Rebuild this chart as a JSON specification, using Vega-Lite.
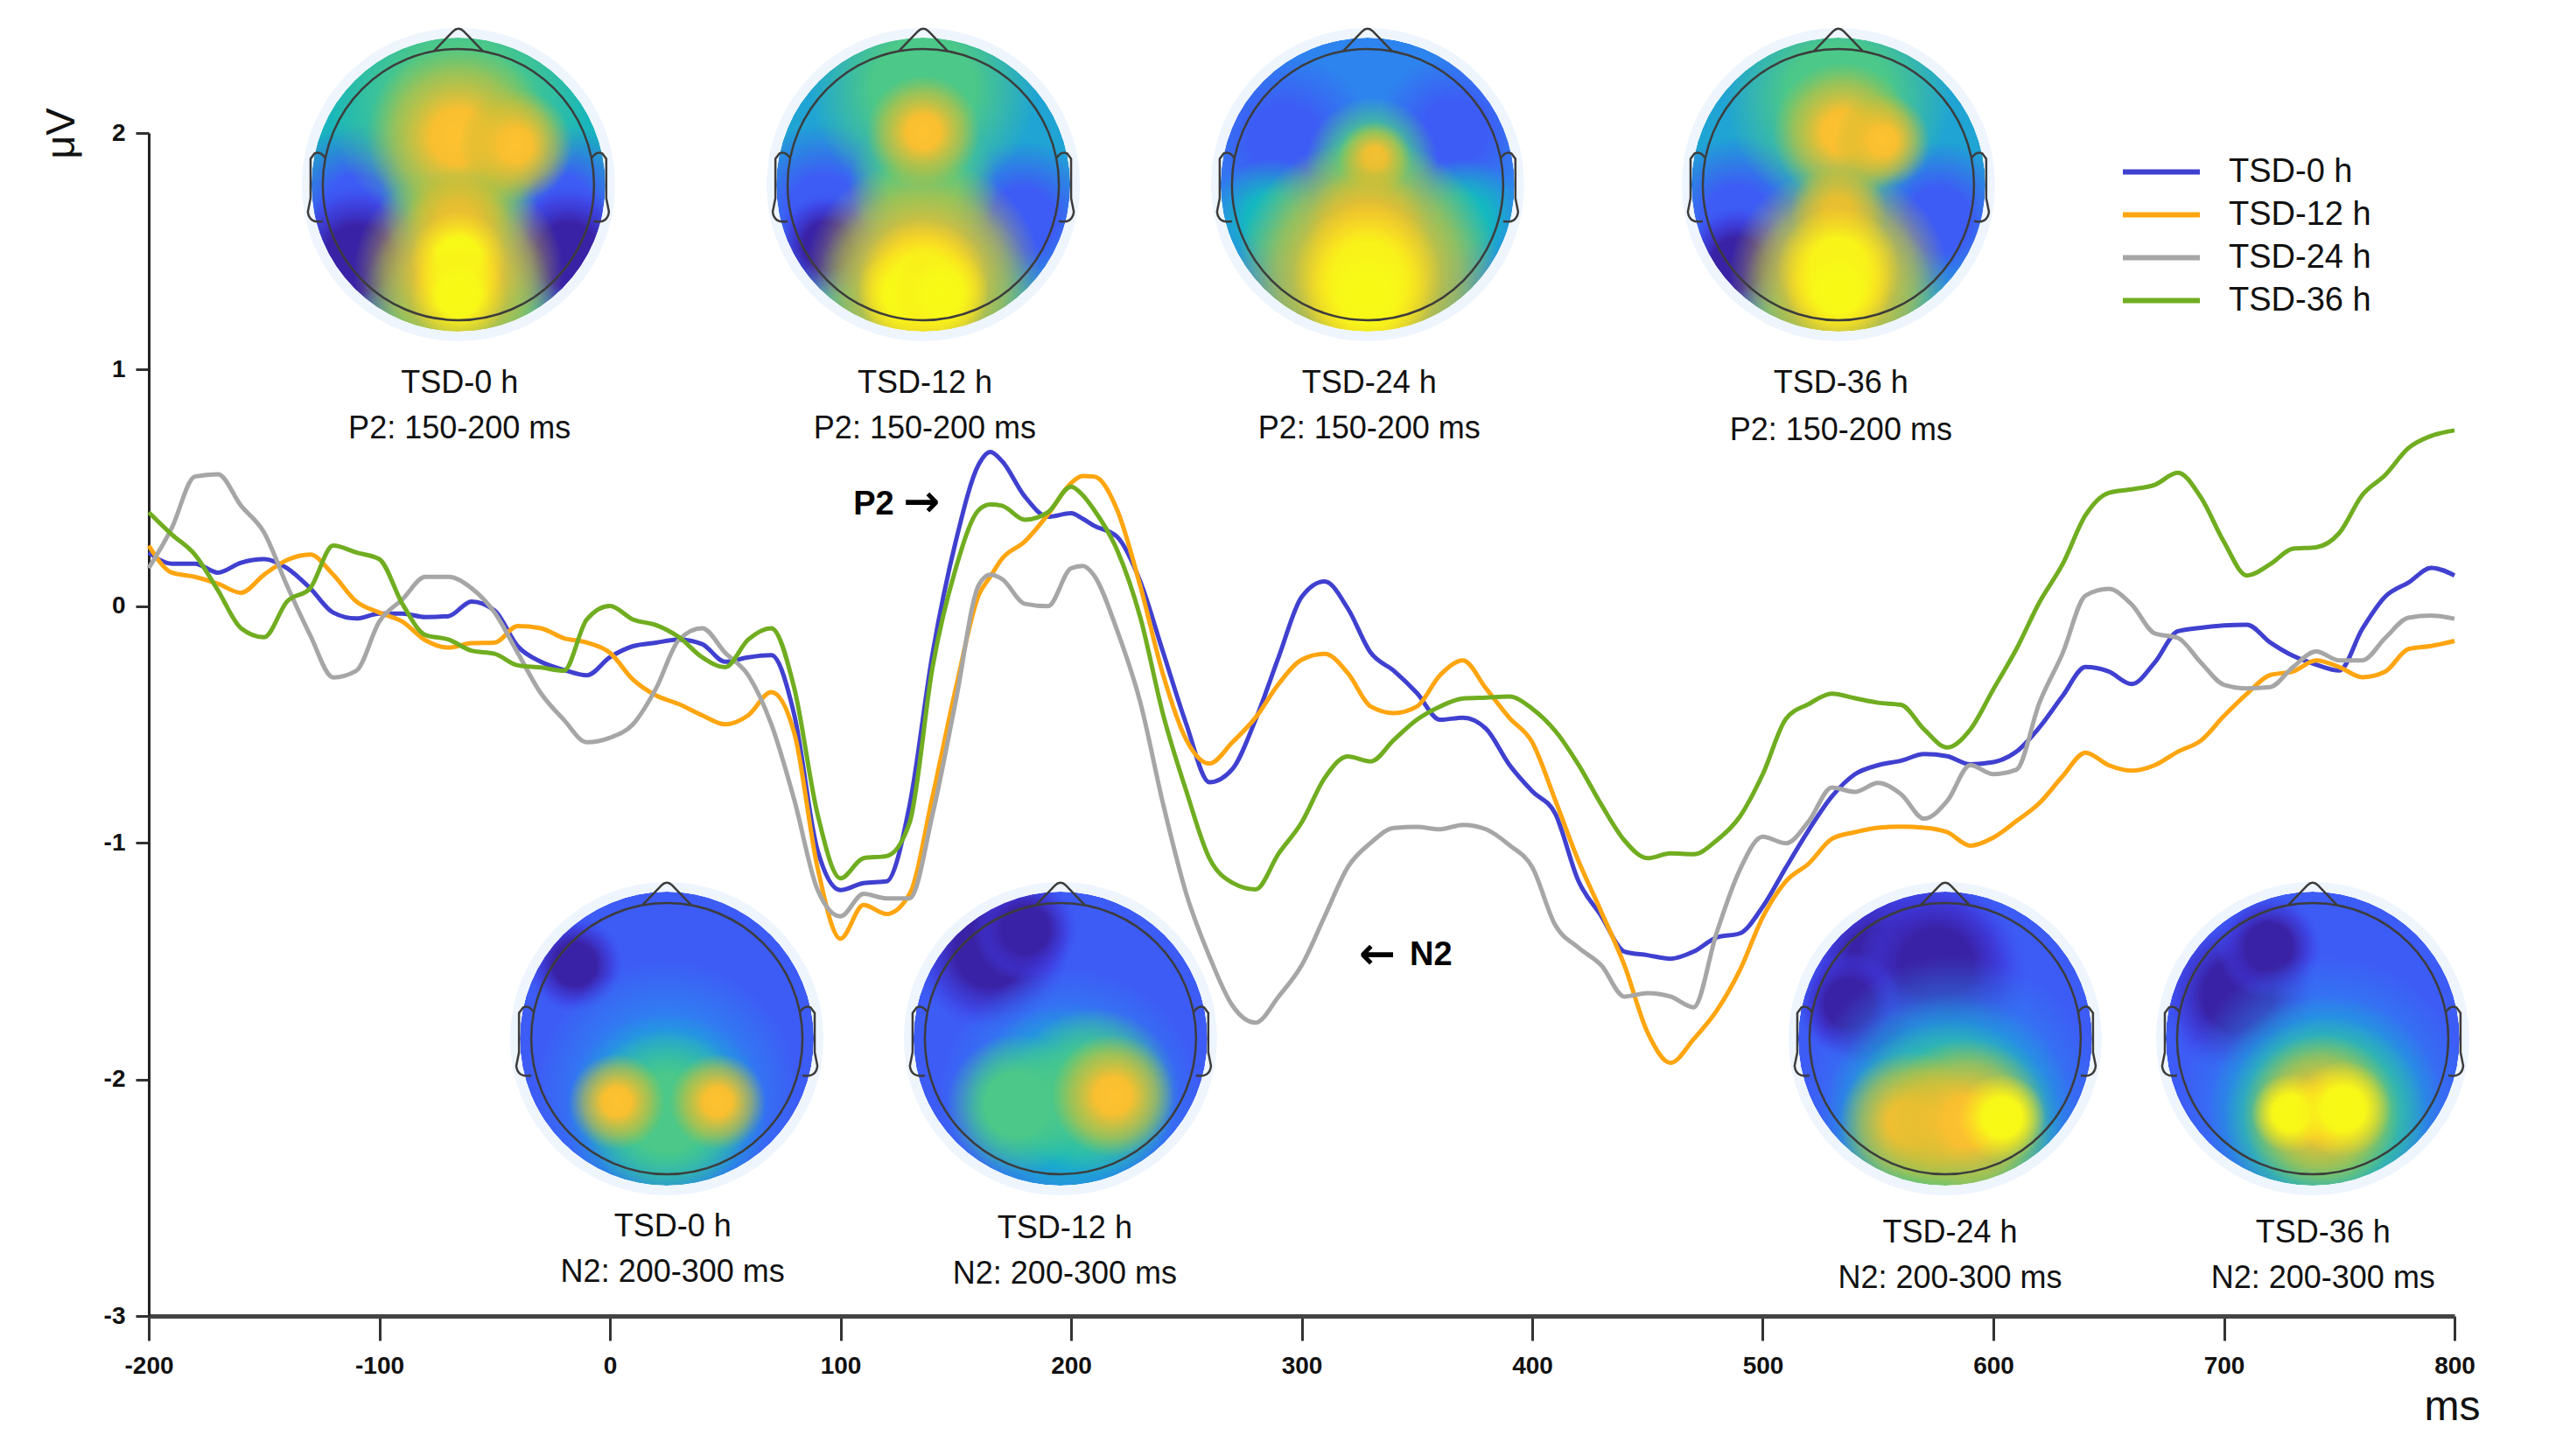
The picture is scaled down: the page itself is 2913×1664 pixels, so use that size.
{
"$schema":"https://vega.github.io/schema/vega-lite/v6.json",
"width":2635,"height":1352,
"autosize":"none",
"padding":{"left":170,"top":152,"right":108,"bottom":160},
"background":"white",
"config":{"view":{"stroke":null},"font":"Liberation Sans"},
"datasets":{
"heads":[
{"head":"P2 TSD-0","ms":-65.7,"uv":1.782,"base":"teal"},
{"head":"P2 TSD-12","ms":135.9,"uv":1.782,"base":"lagoon"},
{"head":"P2 TSD-24","ms":328.6,"uv":1.782,"base":"sky"},
{"head":"P2 TSD-36","ms":532.8,"uv":1.782,"base":"lagoon"},
{"head":"N2 TSD-0","ms":24.7,"uv":-1.828,"base":"royal"},
{"head":"N2 TSD-12","ms":195.4,"uv":-1.828,"base":"royal"},
{"head":"N2 TSD-24","ms":579.1,"uv":-1.828,"base":"royal"},
{"head":"N2 TSD-36","ms":738.5,"uv":-1.828,"base":"royal"}
],
"blobs":[
{"kind":"roy","ms0":-147.3,"ms1":-71.4,"uv0":2.041,"uv1":1.301},
{"kind":"roy","ms0":-60,"ms1":15.9,"uv0":2.041,"uv1":1.301},
{"kind":"ind","ms0":-141.6,"ms1":-77.1,"uv0":1.782,"uv1":1.153},
{"kind":"ind","ms0":-48.6,"ms1":12.1,"uv0":1.782,"uv1":1.19},
{"kind":"grn","ms0":-122.6,"ms1":-8.8,"uv0":2.689,"uv1":1.579},
{"kind":"grn","ms0":-107.4,"ms1":-24,"uv0":1.708,"uv1":0.894},
{"kind":"grn","ms0":-99.9,"ms1":-31.5,"uv0":2.041,"uv1":1.375},
{"kind":"org","ms0":-105.5,"ms1":-25.9,"uv0":2.374,"uv1":1.597},
{"kind":"org","ms0":-65.7,"ms1":-16.4,"uv0":2.189,"uv1":1.708},
{"kind":"org","ms0":-88.5,"ms1":-42.9,"uv0":1.856,"uv1":1.412},
{"kind":"org","ms0":-111.2,"ms1":-20.2,"uv0":1.856,"uv1":0.968},
{"kind":"yel","ms0":-86.6,"ms1":-44.8,"uv0":1.671,"uv1":1.264},
{"kind":"yel","ms0":-86.6,"ms1":-44.8,"uv0":1.523,"uv1":1.116},

{"kind":"roy","ms0":54.3,"ms1":130.2,"uv0":2.041,"uv1":1.301},
{"kind":"roy","ms0":145.4,"ms1":213.7,"uv0":1.967,"uv1":1.301},
{"kind":"ind","ms0":71.4,"ms1":116.9,"uv0":1.745,"uv1":1.301},
{"kind":"grn","ms0":86.6,"ms1":185.2,"uv0":2.67,"uv1":1.708},
{"kind":"grn","ms0":103.6,"ms1":168.2,"uv0":2.097,"uv1":1.468},
{"kind":"grn","ms0":88.5,"ms1":183.3,"uv0":1.782,"uv1":0.857},
{"kind":"org","ms0":111.2,"ms1":160.6,"uv0":2.245,"uv1":1.764},
{"kind":"org","ms0":84.7,"ms1":187.1,"uv0":1.893,"uv1":0.894},
{"kind":"yel","ms0":107.4,"ms1":164.4,"uv0":1.634,"uv1":1.079},
{"kind":"yel","ms0":107.4,"ms1":149.2,"uv0":1.523,"uv1":1.116},
{"kind":"yel","ms0":122.6,"ms1":164.4,"uv0":1.523,"uv1":1.116},

{"kind":"roy","ms0":254.6,"ms1":330.5,"uv0":2.337,"uv1":1.597},
{"kind":"roy","ms0":332.4,"ms1":400.7,"uv0":2.337,"uv1":1.671},
{"kind":"tea","ms0":343.8,"ms1":396.9,"uv0":1.893,"uv1":1.375},
{"kind":"tea","ms0":260.3,"ms1":313.4,"uv0":1.893,"uv1":1.375},
{"kind":"grn","ms0":302,"ms1":359,"uv0":2.152,"uv1":1.597},
{"kind":"grn","ms0":271.7,"ms1":385.5,"uv0":1.986,"uv1":0.876},
{"kind":"org","ms0":315.7,"ms1":347.6,"uv0":2.048,"uv1":1.738},
{"kind":"org","ms0":302,"ms1":355.2,"uv0":1.856,"uv1":1.338},
{"kind":"org","ms0":271.7,"ms1":385.5,"uv0":1.967,"uv1":0.857},
{"kind":"yel","ms0":296.3,"ms1":360.9,"uv0":1.708,"uv1":1.079},
{"kind":"yel","ms0":302,"ms1":355.2,"uv0":1.579,"uv1":1.06},

{"kind":"roy","ms0":453.1,"ms1":525.2,"uv0":1.986,"uv1":1.283},
{"kind":"roy","ms0":542.3,"ms1":610.6,"uv0":1.967,"uv1":1.301},
{"kind":"ind","ms0":464.5,"ms1":513.8,"uv0":1.69,"uv1":1.209},
{"kind":"grn","ms0":483.5,"ms1":582.1,"uv0":2.633,"uv1":1.671},
{"kind":"grn","ms0":491.1,"ms1":574.5,"uv0":1.727,"uv1":0.913},
{"kind":"org","ms0":504.3,"ms1":565.1,"uv0":2.3,"uv1":1.708},
{"kind":"org","ms0":530.9,"ms1":572.6,"uv0":2.17,"uv1":1.764},
{"kind":"org","ms0":511.9,"ms1":553.7,"uv0":1.875,"uv1":1.468},
{"kind":"org","ms0":485.4,"ms1":580.2,"uv0":1.856,"uv1":0.931},
{"kind":"yel","ms0":506.2,"ms1":559.4,"uv0":1.69,"uv1":1.172},
{"kind":"yel","ms0":510,"ms1":555.6,"uv0":1.56,"uv1":1.116},

{"kind":"ind","ms0":-36,"ms1":5.7,"uv0":-1.31,"uv1":-1.717},
{"kind":"sky","ms0":-32.2,"ms1":81.6,"uv0":-1.495,"uv1":-2.605},
{"kind":"tea","ms0":-18.9,"ms1":68.3,"uv0":-1.717,"uv1":-2.568},
{"kind":"grn","ms0":-11.4,"ms1":60.8,"uv0":-1.791,"uv1":-2.494},
{"kind":"org","ms0":-17.8,"ms1":23.9,"uv0":-1.891,"uv1":-2.298},
{"kind":"org","ms0":25.8,"ms1":67.6,"uv0":-1.891,"uv1":-2.298},

{"kind":"ind","ms0":130.9,"ms1":199.2,"uv0":-1.125,"uv1":-1.791},
{"kind":"ind","ms0":157.5,"ms1":203,"uv0":-1.144,"uv1":-1.588},
{"kind":"sky","ms0":142.3,"ms1":256.1,"uv0":-1.532,"uv1":-2.642},
{"kind":"tea","ms0":153.7,"ms1":244.7,"uv0":-1.68,"uv1":-2.568},
{"kind":"grn","ms0":146.1,"ms1":206.8,"uv0":-1.81,"uv1":-2.402},
{"kind":"grn","ms0":174.5,"ms1":246.6,"uv0":-1.699,"uv1":-2.402},
{"kind":"org","ms0":191.6,"ms1":244.7,"uv0":-1.81,"uv1":-2.328},

{"kind":"ind","ms0":520.3,"ms1":615.2,"uv0":-1.107,"uv1":-2.032},
{"kind":"ind","ms0":518.4,"ms1":579.1,"uv0":-1.384,"uv1":-1.976},
{"kind":"ind","ms0":518.4,"ms1":586.7,"uv0":-1.18,"uv1":-1.847},
{"kind":"ind","ms0":541.2,"ms1":609.5,"uv0":-1.18,"uv1":-1.847},
{"kind":"ind","ms0":514.6,"ms1":560.1,"uv0":-1.458,"uv1":-1.902},
{"kind":"sky","ms0":518.4,"ms1":647.4,"uv0":-1.476,"uv1":-2.735},
{"kind":"tea","ms0":526,"ms1":636,"uv0":-1.643,"uv1":-2.716},
{"kind":"grn","ms0":531.7,"ms1":630.3,"uv0":-1.754,"uv1":-2.716},
{"kind":"org","ms0":533.6,"ms1":594.3,"uv0":-1.884,"uv1":-2.476},
{"kind":"org","ms0":552.5,"ms1":624.6,"uv0":-1.828,"uv1":-2.531},
{"kind":"yel","ms0":584.8,"ms1":622.7,"uv0":-1.976,"uv1":-2.346},

{"kind":"ind","ms0":672.1,"ms1":740.4,"uv0":-1.31,"uv1":-1.976},
{"kind":"ind","ms0":696.8,"ms1":742.3,"uv0":-1.218,"uv1":-1.662},
{"kind":"sky","ms0":681.6,"ms1":806.8,"uv0":-1.476,"uv1":-2.698},
{"kind":"tea","ms0":693,"ms1":795.4,"uv0":-1.643,"uv1":-2.642},
{"kind":"grn","ms0":700.5,"ms1":787.8,"uv0":-1.736,"uv1":-2.587},
{"kind":"org","ms0":708.1,"ms1":776.5,"uv0":-1.81,"uv1":-2.476},
{"kind":"yel","ms0":711.9,"ms1":746.1,"uv0":-1.976,"uv1":-2.309},
{"kind":"yel","ms0":730.9,"ms1":772.7,"uv0":-1.921,"uv1":-2.328}
],
"labels":[
{"t":"TSD-0 h","ms":-65.2,"uv":0.949},{"t":"P2: 150-200 ms","ms":-65.2,"uv":0.757},
{"t":"TSD-12 h","ms":136.6,"uv":0.949},{"t":"P2: 150-200 ms","ms":136.6,"uv":0.757},
{"t":"TSD-24 h","ms":329.3,"uv":0.949},{"t":"P2: 150-200 ms","ms":329.3,"uv":0.757},
{"t":"TSD-36 h","ms":533.9,"uv":0.949},{"t":"P2: 150-200 ms","ms":533.9,"uv":0.75},
{"t":"TSD-0 h","ms":27.2,"uv":-2.615},{"t":"N2: 200-300 ms","ms":27.2,"uv":-2.808},
{"t":"TSD-12 h","ms":197.3,"uv":-2.622},{"t":"N2: 200-300 ms","ms":197.3,"uv":-2.815},
{"t":"TSD-24 h","ms":581.2,"uv":-2.643},{"t":"N2: 200-300 ms","ms":581.2,"uv":-2.835},
{"t":"TSD-36 h","ms":743,"uv":-2.643},{"t":"N2: 200-300 ms","ms":743,"uv":-2.835}
],
"peaks":[
{"t":"P2","ms":114.4,"uv":0.427},
{"t":"N2","ms":356.1,"uv":-1.475}
],
"arrows":[
{"t":"→","ms":135.2,"uv":0.434},
{"t":"←","ms":332.8,"uv":-1.475}
],
"erp":[
{"ms":-200,"TSD-0 h":0.227,"TSD-12 h":0.256,"TSD-24 h":0.161,"TSD-36 h":0.397},
{"ms":-190,"TSD-0 h":0.18,"TSD-12 h":0.142,"TSD-24 h":0.331,"TSD-36 h":0.303},
{"ms":-180,"TSD-0 h":0.18,"TSD-12 h":0.124,"TSD-24 h":0.548,"TSD-36 h":0.218},
{"ms":-170,"TSD-0 h":0.142,"TSD-12 h":0.095,"TSD-24 h":0.558,"TSD-36 h":0.067},
{"ms":-160,"TSD-0 h":0.184,"TSD-12 h":0.057,"TSD-24 h":0.425,"TSD-36 h":-0.093},
{"ms":-150,"TSD-0 h":0.199,"TSD-12 h":0.133,"TSD-24 h":0.312,"TSD-36 h":-0.131},
{"ms":-140,"TSD-0 h":0.161,"TSD-12 h":0.195,"TSD-24 h":0.086,"TSD-36 h":0.02},
{"ms":-130,"TSD-0 h":0.076,"TSD-12 h":0.218,"TSD-24 h":-0.122,"TSD-36 h":0.076},
{"ms":-120,"TSD-0 h":-0.027,"TSD-12 h":0.133,"TSD-24 h":-0.301,"TSD-36 h":0.256},
{"ms":-110,"TSD-0 h":-0.052,"TSD-12 h":0.02,"TSD-24 h":-0.273,"TSD-36 h":0.227},
{"ms":-100,"TSD-0 h":-0.031,"TSD-12 h":-0.027,"TSD-24 h":-0.065,"TSD-36 h":0.199},
{"ms":-90,"TSD-0 h":-0.031,"TSD-12 h":-0.065,"TSD-24 h":0.029,"TSD-36 h":0.01},
{"ms":-80,"TSD-0 h":-0.046,"TSD-12 h":-0.144,"TSD-24 h":0.124,"TSD-36 h":-0.122},
{"ms":-70,"TSD-0 h":-0.042,"TSD-12 h":-0.175,"TSD-24 h":0.124,"TSD-36 h":-0.141},
{"ms":-60,"TSD-0 h":0.02,"TSD-12 h":-0.156,"TSD-24 h":0.076,"TSD-36 h":-0.188},
{"ms":-50,"TSD-0 h":-0.018,"TSD-12 h":-0.154,"TSD-24 h":-0.027,"TSD-36 h":-0.201},
{"ms":-40,"TSD-0 h":-0.169,"TSD-12 h":-0.084,"TSD-24 h":-0.197,"TSD-36 h":-0.25},
{"ms":-30,"TSD-0 h":-0.235,"TSD-12 h":-0.093,"TSD-24 h":-0.367,"TSD-36 h":-0.259},
{"ms":-20,"TSD-0 h":-0.269,"TSD-12 h":-0.135,"TSD-24 h":-0.48,"TSD-36 h":-0.273},
{"ms":-10,"TSD-0 h":-0.292,"TSD-12 h":-0.154,"TSD-24 h":-0.575,"TSD-36 h":-0.056},
{"ms":0,"TSD-0 h":-0.216,"TSD-12 h":-0.197,"TSD-24 h":-0.556,"TSD-36 h":0.001},
{"ms":10,"TSD-0 h":-0.169,"TSD-12 h":-0.31,"TSD-24 h":-0.499,"TSD-36 h":-0.056},
{"ms":20,"TSD-0 h":-0.154,"TSD-12 h":-0.377,"TSD-24 h":-0.348,"TSD-36 h":-0.08},
{"ms":30,"TSD-0 h":-0.141,"TSD-12 h":-0.414,"TSD-24 h":-0.141,"TSD-36 h":-0.131},
{"ms":40,"TSD-0 h":-0.16,"TSD-12 h":-0.461,"TSD-24 h":-0.093,"TSD-36 h":-0.216},
{"ms":50,"TSD-0 h":-0.235,"TSD-12 h":-0.499,"TSD-24 h":-0.197,"TSD-36 h":-0.258},
{"ms":60,"TSD-0 h":-0.216,"TSD-12 h":-0.461,"TSD-24 h":-0.292,"TSD-36 h":-0.141},
{"ms":70,"TSD-0 h":-0.207,"TSD-12 h":-0.363,"TSD-24 h":-0.499,"TSD-36 h":-0.093},
{"ms":80,"TSD-0 h":-0.461,"TSD-12 h":-0.537,"TSD-24 h":-0.82,"TSD-36 h":-0.348},
{"ms":90,"TSD-0 h":-1.03,"TSD-12 h":-1.103,"TSD-24 h":-1.197,"TSD-36 h":-0.877},
{"ms":100,"TSD-0 h":-1.2,"TSD-12 h":-1.405,"TSD-24 h":-1.311,"TSD-36 h":-1.15},
{"ms":110,"TSD-0 h":-1.17,"TSD-12 h":-1.263,"TSD-24 h":-1.216,"TSD-36 h":-1.065},
{"ms":120,"TSD-0 h":-1.163,"TSD-12 h":-1.301,"TSD-24 h":-1.235,"TSD-36 h":-1.056},
{"ms":130,"TSD-0 h":-0.84,"TSD-12 h":-1.216,"TSD-24 h":-1.235,"TSD-36 h":-0.914},
{"ms":140,"TSD-0 h":-0.197,"TSD-12 h":-0.801,"TSD-24 h":-0.877,"TSD-36 h":-0.254},
{"ms":150,"TSD-0 h":0.274,"TSD-12 h":-0.348,"TSD-24 h":-0.4,"TSD-36 h":0.16},
{"ms":160,"TSD-0 h":0.6,"TSD-12 h":0.048,"TSD-24 h":0.09,"TSD-36 h":0.407},
{"ms":165,"TSD-0 h":0.652,"TSD-12 h":0.125,"TSD-24 h":0.133,"TSD-36 h":0.43},
{"ms":170,"TSD-0 h":0.614,"TSD-12 h":0.2,"TSD-24 h":0.115,"TSD-36 h":0.425},
{"ms":180,"TSD-0 h":0.463,"TSD-12 h":0.274,"TSD-24 h":0.01,"TSD-36 h":0.365},
{"ms":190,"TSD-0 h":0.378,"TSD-12 h":0.388,"TSD-24 h":0,"TSD-36 h":0.397},
{"ms":200,"TSD-0 h":0.393,"TSD-12 h":0.52,"TSD-24 h":0.16,"TSD-36 h":0.505},
{"ms":205,"TSD-0 h":0.37,"TSD-12 h":0.55,"TSD-24 h":0.17,"TSD-36 h":0.47},
{"ms":210,"TSD-0 h":0.34,"TSD-12 h":0.548,"TSD-24 h":0.13,"TSD-36 h":0.407},
{"ms":220,"TSD-0 h":0.293,"TSD-12 h":0.407,"TSD-24 h":-0.103,"TSD-36 h":0.237},
{"ms":230,"TSD-0 h":0.105,"TSD-12 h":0.086,"TSD-24 h":-0.405,"TSD-36 h":-0.046},
{"ms":240,"TSD-0 h":-0.197,"TSD-12 h":-0.292,"TSD-24 h":-0.839,"TSD-36 h":-0.461},
{"ms":250,"TSD-0 h":-0.499,"TSD-12 h":-0.565,"TSD-24 h":-1.216,"TSD-36 h":-0.782},
{"ms":260,"TSD-0 h":-0.744,"TSD-12 h":-0.665,"TSD-24 h":-1.48,"TSD-36 h":-1.065},
{"ms":270,"TSD-0 h":-0.688,"TSD-12 h":-0.575,"TSD-24 h":-1.688,"TSD-36 h":-1.169},
{"ms":280,"TSD-0 h":-0.48,"TSD-12 h":-0.471,"TSD-24 h":-1.76,"TSD-36 h":-1.197},
{"ms":290,"TSD-0 h":-0.216,"TSD-12 h":-0.329,"TSD-24 h":-1.65,"TSD-36 h":-1.046},
{"ms":300,"TSD-0 h":0.039,"TSD-12 h":-0.226,"TSD-24 h":-1.518,"TSD-36 h":-0.914},
{"ms":310,"TSD-0 h":0.105,"TSD-12 h":-0.201,"TSD-24 h":-1.311,"TSD-36 h":-0.726},
{"ms":320,"TSD-0 h":-0.009,"TSD-12 h":-0.282,"TSD-24 h":-1.103,"TSD-36 h":-0.635},
{"ms":330,"TSD-0 h":-0.197,"TSD-12 h":-0.424,"TSD-24 h":-1,"TSD-36 h":-0.656},
{"ms":340,"TSD-0 h":-0.273,"TSD-12 h":-0.452,"TSD-24 h":-0.937,"TSD-36 h":-0.565},
{"ms":350,"TSD-0 h":-0.367,"TSD-12 h":-0.424,"TSD-24 h":-0.933,"TSD-36 h":-0.48},
{"ms":360,"TSD-0 h":-0.48,"TSD-12 h":-0.292,"TSD-24 h":-0.943,"TSD-36 h":-0.424},
{"ms":370,"TSD-0 h":-0.471,"TSD-12 h":-0.229,"TSD-24 h":-0.924,"TSD-36 h":-0.39},
{"ms":380,"TSD-0 h":-0.518,"TSD-12 h":-0.348,"TSD-24 h":-0.943,"TSD-36 h":-0.386},
{"ms":390,"TSD-0 h":-0.669,"TSD-12 h":-0.471,"TSD-24 h":-1.009,"TSD-36 h":-0.382},
{"ms":400,"TSD-0 h":-0.782,"TSD-12 h":-0.575,"TSD-24 h":-1.103,"TSD-36 h":-0.433},
{"ms":410,"TSD-0 h":-0.877,"TSD-12 h":-0.82,"TSD-24 h":-1.348,"TSD-36 h":-0.527},
{"ms":420,"TSD-0 h":-1.16,"TSD-12 h":-1.075,"TSD-24 h":-1.443,"TSD-36 h":-0.669},
{"ms":430,"TSD-0 h":-1.31,"TSD-12 h":-1.292,"TSD-24 h":-1.518,"TSD-36 h":-0.839},
{"ms":440,"TSD-0 h":-1.46,"TSD-12 h":-1.518,"TSD-24 h":-1.65,"TSD-36 h":-0.99},
{"ms":450,"TSD-0 h":-1.475,"TSD-12 h":-1.801,"TSD-24 h":-1.635,"TSD-36 h":-1.065},
{"ms":460,"TSD-0 h":-1.49,"TSD-12 h":-1.93,"TSD-24 h":-1.65,"TSD-36 h":-1.045},
{"ms":470,"TSD-0 h":-1.46,"TSD-12 h":-1.83,"TSD-24 h":-1.695,"TSD-36 h":-1.048},
{"ms":480,"TSD-0 h":-1.4,"TSD-12 h":-1.71,"TSD-24 h":-1.38,"TSD-36 h":-0.99},
{"ms":490,"TSD-0 h":-1.383,"TSD-12 h":-1.54,"TSD-24 h":-1.115,"TSD-36 h":-0.89},
{"ms":500,"TSD-0 h":-1.27,"TSD-12 h":-1.314,"TSD-24 h":-0.974,"TSD-36 h":-0.71},
{"ms":510,"TSD-0 h":-1.105,"TSD-12 h":-1.163,"TSD-24 h":-1.002,"TSD-36 h":-0.477},
{"ms":520,"TSD-0 h":-0.945,"TSD-12 h":-1.087,"TSD-24 h":-0.908,"TSD-36 h":-0.413},
{"ms":530,"TSD-0 h":-0.804,"TSD-12 h":-0.983,"TSD-24 h":-0.766,"TSD-36 h":-0.37},
{"ms":540,"TSD-0 h":-0.71,"TSD-12 h":-0.955,"TSD-24 h":-0.785,"TSD-36 h":-0.389},
{"ms":550,"TSD-0 h":-0.672,"TSD-12 h":-0.936,"TSD-24 h":-0.747,"TSD-36 h":-0.408},
{"ms":560,"TSD-0 h":-0.653,"TSD-12 h":-0.932,"TSD-24 h":-0.795,"TSD-36 h":-0.417},
{"ms":570,"TSD-0 h":-0.625,"TSD-12 h":-0.936,"TSD-24 h":-0.898,"TSD-36 h":-0.521},
{"ms":580,"TSD-0 h":-0.634,"TSD-12 h":-0.955,"TSD-24 h":-0.823,"TSD-36 h":-0.597},
{"ms":590,"TSD-0 h":-0.668,"TSD-12 h":-1.012,"TSD-24 h":-0.672,"TSD-36 h":-0.521},
{"ms":600,"TSD-0 h":-0.659,"TSD-12 h":-0.978,"TSD-24 h":-0.71,"TSD-36 h":-0.351},
{"ms":610,"TSD-0 h":-0.615,"TSD-12 h":-0.908,"TSD-24 h":-0.691,"TSD-36 h":-0.181},
{"ms":620,"TSD-0 h":-0.512,"TSD-12 h":-0.832,"TSD-24 h":-0.408,"TSD-36 h":0.017},
{"ms":630,"TSD-0 h":-0.38,"TSD-12 h":-0.719,"TSD-24 h":-0.2,"TSD-36 h":0.177},
{"ms":640,"TSD-0 h":-0.257,"TSD-12 h":-0.619,"TSD-24 h":0.045,"TSD-36 h":0.385},
{"ms":650,"TSD-0 h":-0.276,"TSD-12 h":-0.672,"TSD-24 h":0.073,"TSD-36 h":0.479},
{"ms":660,"TSD-0 h":-0.329,"TSD-12 h":-0.695,"TSD-24 h":0.007,"TSD-36 h":0.494},
{"ms":670,"TSD-0 h":-0.238,"TSD-12 h":-0.672,"TSD-24 h":-0.115,"TSD-36 h":0.513},
{"ms":680,"TSD-0 h":-0.106,"TSD-12 h":-0.615,"TSD-24 h":-0.134,"TSD-36 h":0.564},
{"ms":690,"TSD-0 h":-0.091,"TSD-12 h":-0.568,"TSD-24 h":-0.238,"TSD-36 h":0.46},
{"ms":700,"TSD-0 h":-0.081,"TSD-12 h":-0.464,"TSD-24 h":-0.332,"TSD-36 h":0.272},
{"ms":710,"TSD-0 h":-0.078,"TSD-12 h":-0.37,"TSD-24 h":-0.347,"TSD-36 h":0.13},
{"ms":720,"TSD-0 h":-0.153,"TSD-12 h":-0.291,"TSD-24 h":-0.342,"TSD-36 h":0.177},
{"ms":730,"TSD-0 h":-0.21,"TSD-12 h":-0.276,"TSD-24 h":-0.257,"TSD-36 h":0.243},
{"ms":740,"TSD-0 h":-0.247,"TSD-12 h":-0.229,"TSD-24 h":-0.191,"TSD-36 h":0.249},
{"ms":750,"TSD-0 h":-0.272,"TSD-12 h":-0.257,"TSD-24 h":-0.229,"TSD-36 h":0.309},
{"ms":760,"TSD-0 h":-0.096,"TSD-12 h":-0.3,"TSD-24 h":-0.229,"TSD-36 h":0.47},
{"ms":770,"TSD-0 h":0.041,"TSD-12 h":-0.276,"TSD-24 h":-0.134,"TSD-36 h":0.555},
{"ms":780,"TSD-0 h":0.1,"TSD-12 h":-0.181,"TSD-24 h":-0.049,"TSD-36 h":0.668},
{"ms":790,"TSD-0 h":0.162,"TSD-12 h":-0.168,"TSD-24 h":-0.04,"TSD-36 h":0.72},
{"ms":800,"TSD-0 h":0.13,"TSD-12 h":-0.147,"TSD-24 h":-0.053,"TSD-36 h":0.743}
]
},
"layer":[
{"data":{"name":"heads"},
 "mark":{"type":"point","filled":true,"opacity":1,"size":112896,"shape":"circle"},
 "encoding":{
  "x":{"field":"ms","type":"quantitative","scale":{"domain":[-200,800],"nice":false,"zero":false}},
  "y":{"field":"uv","type":"quantitative","scale":{"domain":[-3,2],"nice":false,"zero":false}},
  "fill":{"field":"base","type":"nominal","legend":null,"scale":{"domain":["teal","lagoon","sky","royal"],"range":["#18b6bc","#1fa4d4","#2d84ee","#3d5cf5"]}}
 }},
{"data":{"name":"blobs"},
 "encoding":{
  "x":{"field":"ms0","type":"quantitative"},"x2":{"field":"ms1"},
  "y":{"field":"uv0","type":"quantitative"},"y2":{"field":"uv1"}
 },
 "layer":[
  {"transform":[{"filter":"datum.kind=='roy'"}],"mark":{"type":"rect","fill":{"gradient":"radial","x1":0.5,"y1":0.5,"r1":0,"x2":0.5,"y2":0.5,"r2":0.5,"stops":[{"offset":0,"color":"#3d5cf5"},{"offset":0.4,"color":"#3d5cf5"},{"offset":1,"color":"rgba(61,92,245,0)"}]}}},
  {"transform":[{"filter":"datum.kind=='ind'"}],"mark":{"type":"rect","fill":{"gradient":"radial","x1":0.5,"y1":0.5,"r1":0,"x2":0.5,"y2":0.5,"r2":0.5,"stops":[{"offset":0,"color":"#3a22a6"},{"offset":0.45,"color":"#3a22a6"},{"offset":0.75,"color":"rgba(62,50,210,0.6)"},{"offset":1,"color":"rgba(61,70,240,0)"}]}}},
  {"transform":[{"filter":"datum.kind=='sky'"}],"mark":{"type":"rect","fill":{"gradient":"radial","x1":0.5,"y1":0.5,"r1":0,"x2":0.5,"y2":0.5,"r2":0.5,"stops":[{"offset":0,"color":"#2a8cf0"},{"offset":0.4,"color":"#2a8cf0"},{"offset":1,"color":"rgba(42,140,240,0)"}]}}},
  {"transform":[{"filter":"datum.kind=='tea'"}],"mark":{"type":"rect","fill":{"gradient":"radial","x1":0.5,"y1":0.5,"r1":0,"x2":0.5,"y2":0.5,"r2":0.5,"stops":[{"offset":0,"color":"#0fb8c8"},{"offset":0.4,"color":"#14b8c0"},{"offset":1,"color":"rgba(20,184,192,0)"}]}}},
  {"transform":[{"filter":"datum.kind=='grn'"}],"mark":{"type":"rect","fill":{"gradient":"radial","x1":0.5,"y1":0.5,"r1":0,"x2":0.5,"y2":0.5,"r2":0.5,"stops":[{"offset":0,"color":"#4cc888"},{"offset":0.45,"color":"#4cc888"},{"offset":1,"color":"rgba(76,200,136,0)"}]}}},
  {"transform":[{"filter":"datum.kind=='org'"}],"mark":{"type":"rect","fill":{"gradient":"radial","x1":0.5,"y1":0.5,"r1":0,"x2":0.5,"y2":0.5,"r2":0.5,"stops":[{"offset":0,"color":"#ffc230"},{"offset":0.3,"color":"#f8bf30"},{"offset":0.7,"color":"rgba(215,190,50,0.55)"},{"offset":1,"color":"rgba(180,190,60,0)"}]}}},
  {"transform":[{"filter":"datum.kind=='yel'"}],"mark":{"type":"rect","fill":{"gradient":"radial","x1":0.5,"y1":0.5,"r1":0,"x2":0.5,"y2":0.5,"r2":0.5,"stops":[{"offset":0,"color":"#f8fb14"},{"offset":0.45,"color":"#f8f818"},{"offset":1,"color":"rgba(250,225,30,0)"}]}}}
 ]},
{"data":{"name":"heads"},
 "encoding":{
  "x":{"field":"ms","type":"quantitative"},
  "y":{"field":"uv","type":"quantitative"}
 },
 "layer":[
  {"mark":{"type":"arc","fill":"white","radius":168,"radius2":250,"theta":0,"theta2":6.2832}},
  {"mark":{"type":"arc","fill":"#eef5fd","radius":168,"radius2":179,"theta":0,"theta2":6.2832}},
  {"mark":{"type":"point","filled":false,"opacity":1,"stroke":"#3c3c3c","strokeWidth":2.5,"size":96100,
    "shape":"M -1 0 A 1 1 0 1 1 1 0 A 1 1 0 1 1 -1 0 Z M -0.18 -0.985 L -0.04 -1.13 Q 0 -1.17 0.04 -1.13 L 0.18 -0.985 M -0.985 -0.2 Q -1.02 -0.25 -1.06 -0.23 L -1.09 -0.19 L -1.09 0.1 L -1.11 0.2 Q -1.1 0.29 -1.0 0.27 M 0.985 -0.2 Q 1.02 -0.25 1.06 -0.23 L 1.09 -0.19 L 1.09 0.1 L 1.11 0.2 Q 1.1 0.29 1.0 0.27"}}
 ]},
{"data":{"name":"erp"},
 "transform":[{"fold":["TSD-0 h","TSD-12 h","TSD-24 h","TSD-36 h"],"as":["condition","amplitude"]}],
 "mark":{"type":"line","interpolate":"monotone","strokeWidth":5,"strokeJoin":"round"},
 "encoding":{
  "x":{"field":"ms","type":"quantitative",
   "axis":{"values":[-200,-100,0,100,200,300,400,500,600,700,800],"labelExpr":"toString(datum.value)","title":"ms","titleX":2632,"titleY":118,"titleFont":"Liberation Sans","titleFontSize":48,"titleFontWeight":"normal","titleColor":"#111","titleAlign":"center","titleBaseline":"alphabetic","domainColor":"#444","domainWidth":5,"tickColor":"#333","tickWidth":3,"tickSize":28,"labelFont":"Liberation Sans","labelFontSize":28,"labelFontWeight":"bold","labelColor":"#111","labelPadding":15,"labelFlush":false,"labelOverlap":false,"grid":false}},
  "y":{"field":"amplitude","type":"quantitative",
   "axis":{"values":[-3,-2,-1,0,1,2],"labelExpr":"toString(datum.value)","title":"μV","titleAngle":270,"titleX":-86,"titleY":0,"titleFont":"Liberation Sans","titleFontSize":47,"titleFontWeight":"normal","titleColor":"#111","titleAlign":"center","titleBaseline":"alphabetic","domainColor":"#222","domainWidth":3,"tickColor":"#333","tickWidth":3,"tickSize":15,"labelFont":"Liberation Sans","labelFontSize":28,"labelFontWeight":"bold","labelColor":"#111","labelPadding":12,"labelOverlap":false,"grid":false}},
  "color":{"field":"condition","type":"nominal",
   "scale":{"domain":["TSD-0 h","TSD-12 h","TSD-24 h","TSD-36 h"],"range":["#4040d0","#ffa510","#a6a6a6","#70ad20"]},
   "legend":{"title":null,"orient":"none","legendX":2253,"legendY":20,"padding":0,"symbolType":"stroke","symbolSize":7744,"symbolStrokeWidth":6,"labelFont":"Liberation Sans","labelFontSize":38,"labelColor":"#111","labelOffset":30,"labelLimit":300,"clipHeight":49,"rowPadding":0}}
 }},
{"data":{"name":"labels"},
 "mark":{"type":"text","font":"Liberation Sans","fontSize":36,"color":"#111","align":"center","baseline":"middle","dy":2},
 "encoding":{
  "x":{"field":"ms","type":"quantitative"},
  "y":{"field":"uv","type":"quantitative"},
  "text":{"field":"t"}
 }},
{"data":{"name":"peaks"},
 "mark":{"type":"text","font":"Liberation Sans","fontSize":38,"fontWeight":"bold","color":"#000","align":"center","baseline":"middle"},
 "encoding":{
  "x":{"field":"ms","type":"quantitative"},
  "y":{"field":"uv","type":"quantitative"},
  "text":{"field":"t"}
 }},
{"data":{"name":"arrows"},
 "mark":{"type":"text","font":"DejaVu Sans","fontSize":50,"fontWeight":"bold","color":"#000","align":"center","baseline":"middle"},
 "encoding":{
  "x":{"field":"ms","type":"quantitative"},
  "y":{"field":"uv","type":"quantitative"},
  "text":{"field":"t"}
 }}
]
}
